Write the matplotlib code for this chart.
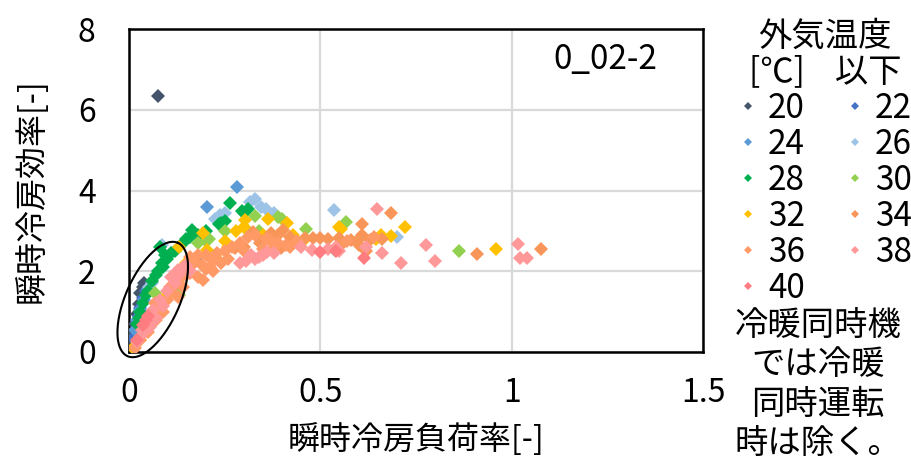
import numpy as np
import matplotlib
matplotlib.use("Agg")
from matplotlib import pyplot as plt

plt.rcParams['font.family'] = ['Noto Sans CJK JP', 'DejaVu Sans']

# outdoor temperature bins [degC] and their colours
temps = [20, 22, 24, 26, 28, 30, 32, 34, 36, 38, 40]
colors = ['#44546A', '#4472C4', '#5B9BD5', '#9DC3E6', '#00B050', '#92D050',
          '#FFC000', '#F8965A', '#FF9966', '#FF9999', '#FF7C80']

# (load ratio, cooling efficiency) per bin
s20_x = [0.076, 0.036, 0.030, 0.025, 0.020, 0.015, 0.010, 0.005, 0.040]
s20_y = [6.34, 1.62, 1.45, 1.20, 0.95, 0.70, 0.45, 0.20, 1.70]
s22_x = [0.037, 0.030, 0.025, 0.020, 0.015, 0.010, 0.045, 0.172, 0.176]
s22_y = [1.34, 1.10, 0.90, 0.75, 0.55, 0.35, 1.50, 2.26, 2.30]
s24_x = [0.283, 0.203, 0.050, 0.040, 0.030, 0.022, 0.015, 0.170]
s24_y = [4.08, 3.60, 1.55, 1.30, 1.05, 0.80, 0.55, 2.22]
s26_x = [0.316, 0.328, 0.238, 0.358, 0.380, 0.536, 0.700, 0.085, 0.053, 0.060,
         0.250, 0.345, 0.225]
s26_y = [3.72, 3.80, 3.39, 3.54, 3.45, 3.51, 2.86, 2.65, 1.62, 1.70,
         3.45, 3.60, 3.30]
s28_x = [0.265, 0.294, 0.300, 0.236, 0.164, 0.180, 0.170, 0.190, 0.081, 0.200,
         0.140, 0.120, 0.100, 0.090, 0.070, 0.036, 0.045, 0.050, 0.030, 0.020,
         0.025, 0.310, 0.240, 0.250, 0.538, 0.060, 0.075, 0.085, 0.095, 0.110,
         0.150, 0.160]
s28_y = [3.68, 3.50, 3.45, 3.17, 3.02, 2.90, 2.95, 2.85, 2.60, 3.00,
         2.70, 2.50, 2.30, 2.10, 1.90, 1.21, 1.40, 1.50, 1.00, 0.70,
         0.85, 3.55, 3.20, 3.25, 2.52, 1.75, 2.00, 2.20, 2.40, 2.45,
         2.80, 2.85]
s30_x = [0.329, 0.462, 0.566, 0.201, 0.862, 0.068, 0.120, 0.130, 0.180, 0.210,
         0.340, 0.400, 0.390, 0.090, 0.250, 0.310]
s30_y = [3.37, 3.05, 3.22, 2.76, 2.51, 1.46, 1.50, 1.40, 2.70, 2.80,
         3.00, 3.30, 3.35, 1.30, 3.00, 3.00]
s32_x = [0.303, 0.193, 0.251, 0.224, 0.414, 0.428, 0.204, 0.363, 0.549, 0.720,
         0.658, 0.684, 0.645, 0.960, 0.094, 0.300, 0.350, 0.460, 0.130, 0.150,
         0.120, 0.070, 0.050, 0.030, 0.010, 0.555, 0.260, 0.280]
s32_y = [3.27, 2.95, 2.76, 2.38, 3.19, 2.90, 2.52, 3.30, 3.09, 3.09,
         2.90, 2.88, 2.80, 2.55, 1.37, 3.10, 2.90, 2.80, 2.60, 2.20,
         1.90, 1.00, 0.60, 0.30, 0.10, 3.05, 2.60, 3.00]
s34_x = [0.684, 0.609, 0.910, 1.076, 0.480, 0.500, 0.520, 0.550, 0.600, 0.630,
         0.660, 0.460, 0.402, 0.324, 0.342, 0.398, 0.277, 0.610, 0.600, 0.620,
         0.390, 0.370, 0.420, 0.440, 0.300, 0.350, 0.560, 0.580]
s34_y = [3.45, 3.17, 2.42, 2.55, 2.82, 2.82, 2.80, 2.82, 2.80, 2.78,
         2.80, 2.82, 3.02, 2.98, 2.70, 2.58, 2.57, 2.90, 2.65, 2.50,
         2.90, 2.95, 2.85, 2.70, 2.60, 2.75, 2.70, 2.78]
s36_x = [0.360, 0.380, 0.300, 0.260, 0.240, 0.220, 0.211, 0.193, 0.159, 0.107,
         0.128, 0.068, 0.124, 0.150, 0.170, 0.200, 0.090, 0.070, 0.050, 0.030,
         0.015, 0.570, 0.640, 0.350, 0.420, 0.180, 0.140, 0.230, 0.250, 0.270,
         0.290, 0.310, 0.330, 0.370, 0.390, 0.410, 0.440, 0.160, 0.180, 0.200,
         0.220, 0.190, 0.110, 0.100, 0.120, 0.130]
s36_y = [2.80, 2.60, 2.50, 2.30, 2.20, 2.00, 2.11, 1.78, 2.36, 1.62,
         1.37, 1.21, 1.78, 1.90, 2.20, 2.40, 1.00, 0.80, 0.50, 0.30,
         0.10, 2.75, 2.85, 2.55, 2.60, 2.40, 1.60, 2.45, 2.50, 2.60,
         2.70, 2.85, 2.90, 2.75, 2.70, 2.65, 2.75, 1.95, 1.85, 2.05,
         2.25, 2.15, 1.50, 1.30, 1.65, 1.80]
s38_x = [0.649, 0.477, 0.777, 0.660, 0.710, 0.800, 1.016, 1.021, 1.040, 0.520,
         0.540, 0.550, 0.307, 0.360, 0.320, 0.340, 0.129, 0.140, 0.130, 0.063,
         0.055, 0.028, 0.080, 0.100, 0.040, 0.620, 0.450, 0.330, 0.350, 0.380,
         0.290, 0.120, 0.110, 0.150, 0.160, 0.090, 0.070, 0.060, 0.035, 0.020]
s38_y = [3.54, 2.52, 2.65, 2.45, 2.20, 2.26, 2.67, 2.32, 2.33, 2.55,
         2.60, 2.50, 2.26, 2.48, 2.40, 2.35, 2.03, 2.10, 1.90, 1.04,
         0.63, 0.38, 1.30, 1.50, 0.50, 2.60, 2.60, 2.30, 2.40, 2.45,
         2.20, 1.70, 1.85, 2.15, 2.00, 1.15, 0.85, 0.75, 0.55, 0.25]
s40_x = [0.499, 0.613, 0.037, 0.045, 0.050, 0.020, 0.540]
s40_y = [2.47, 2.32, 0.67, 0.80, 0.90, 0.30, 2.50]

series_x = [s20_x, s22_x, s24_x, s26_x, s28_x, s30_x, s32_x, s34_x, s36_x, s38_x, s40_x]
series_y = [s20_y, s22_y, s24_y, s26_y, s28_y, s30_y, s32_y, s34_y, s36_y, s38_y, s40_y]

x_ticks = [0, 0.5, 1, 1.5]
x_tick_labels = ['0', '0.5', '1', '1.5']
y_ticks = [0, 2, 4, 6, 8]

fig = plt.figure(figsize=(9.12, 4.63), dpi=100)
ax = fig.add_axes([129 / 912, 1 - 352 / 463, 574 / 912, 323 / 463])

handles = {}
for t, c, xs, ys in zip(temps, colors, series_x, series_y):
    ln, = ax.plot(xs, ys, 'D', ms=7.5, color=c, mew=0, label=str(t), zorder=3)
    handles[t] = ln

ax.set_xlim(0, 1.5)
ax.set_ylim(0, 8)
ax.set_xticks(x_ticks, x_tick_labels)
ax.set_yticks(y_ticks)
ax.tick_params(length=0, labelsize=23)
ax.tick_params(axis='x', pad=18)
ax.tick_params(axis='y', pad=24)
ax.grid(True, color='#d9d9d9', linewidth=1.6)
ax.set_axisbelow(True)
for sp in ax.spines.values():
    sp.set_linewidth(1.8)
    sp.set_color('black')

ax.set_xlabel('瞬時冷房負荷率[-]', fontsize=23, labelpad=10)
ax.set_ylabel('瞬時冷房効率[-]', fontsize=23, labelpad=22)

ax.text(0.83, 0.905, '0_02-2', transform=ax.transAxes, fontsize=24,
        ha='center', va='center')

# ellipse around the low-load cluster, shaped in pixels so the tilt looks right
cx, cy = ax.transData.transform((0.062, 1.3))
a_px, b_px, phi = 62, 27, np.deg2rad(24)
t = np.linspace(0, 2 * np.pi, 200)
px = cx + a_px * np.cos(t) * np.sin(phi) + b_px * np.sin(t) * np.cos(phi)
py = cy + a_px * np.cos(t) * np.cos(phi) - b_px * np.sin(t) * np.sin(phi)
ell = ax.transData.inverted().transform(np.column_stack([px, py]))
ax.plot(ell[:, 0], ell[:, 1], color='black', lw=1.5, clip_on=False, zorder=4)

order = [20, 24, 28, 32, 36, 40, 22, 26, 30, 34, 38]
leg = ax.legend([handles[t] for t in order], [str(t) for t in order],
                ncol=2, loc='upper left', bbox_to_anchor=(738 / 912, 1 - 19 / 463),
                bbox_transform=fig.transFigure, frameon=False, fontsize=24,
                title='外気温度\n[℃]    以下', title_fontsize=24, markerscale=0.55,
                handlelength=0.6, handletextpad=0.3, columnspacing=1.2,
                labelspacing=0.03, borderpad=0, borderaxespad=0)
leg.get_title().set_multialignment('center')
leg.get_title().set_linespacing(1.02)

fig.text(818 / 912, 1 - 308 / 463, '冷暖同時機\nでは冷暖\n同時運転\n時は除く。',
         ha='center', va='top', fontsize=24, linespacing=1.16)

fig.savefig('out.png', dpi=100)
